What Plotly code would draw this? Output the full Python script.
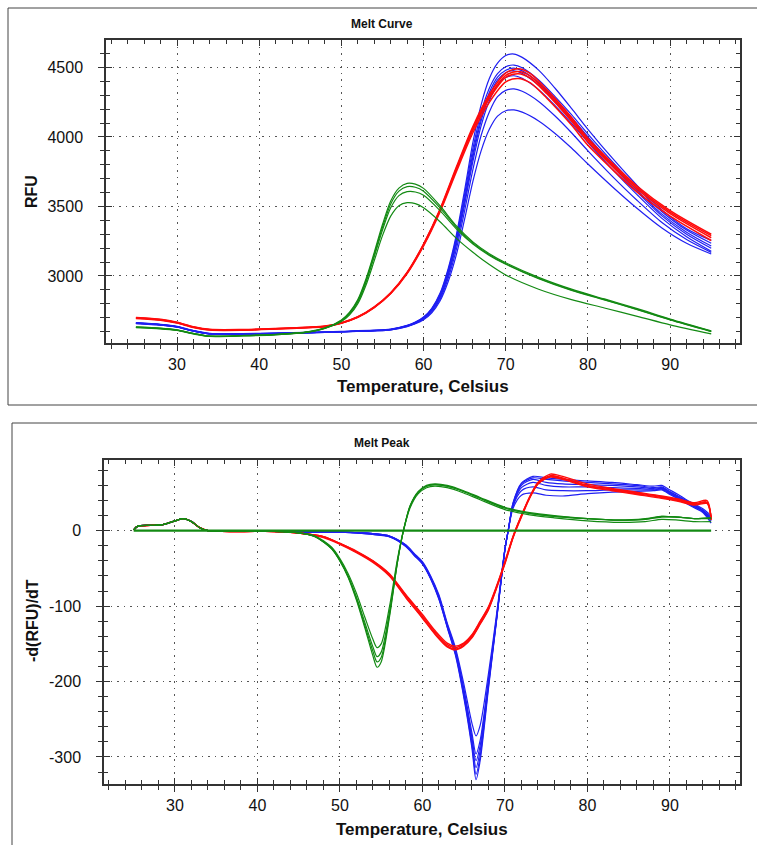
import plotly.graph_objects as go

W, H = 757, 845

# ---------------- Melt Curve (RFU) ----------------
T_GREEN_TOP = [25, 28, 30, 32, 34, 38, 42, 46, 48, 50, 51, 52, 53, 54, 55, 56, 57, 58, 59, 60,
               62, 64, 66, 68, 70, 74, 78, 82, 86, 90, 95]
GREEN_TOP_1 = [2630, 2622, 2610, 2585, 2566, 2570, 2578, 2598, 2625, 2684, 2740, 2830, 2980, 3170, 3370, 3540, 3632, 3666, 3660, 3630,
               3505, 3360, 3245, 3160, 3095, 2990, 2905, 2835, 2765, 2690, 2605]
GREEN_TOP_2 = [2634, 2625, 2612, 2587, 2568, 2572, 2580, 2600, 2627, 2680, 2735, 2822, 2968, 3155, 3350, 3518, 3610, 3642, 3638, 3610,
               3490, 3350, 3238, 3153, 3088, 2984, 2900, 2830, 2760, 2686, 2602]
GREEN_TOP_3 = [2628, 2620, 2608, 2583, 2565, 2569, 2577, 2596, 2622, 2676, 2728, 2812, 2955, 3140, 3330, 3490, 3578, 3606, 3604, 3580,
               3470, 3338, 3230, 3148, 3084, 2980, 2896, 2828, 2758, 2684, 2600]
GREEN_TOP_4 = [2632, 2623, 2611, 2586, 2567, 2571, 2579, 2598, 2624, 2672, 2720, 2800, 2935, 3110, 3290, 3430, 3505, 3527, 3520, 3490,
               3390, 3270, 3170, 3082, 3007, 2905, 2830, 2770, 2710, 2648, 2583]

T_RED_TOP = [25, 28, 30, 32, 34, 38, 42, 46, 48, 50, 52, 54, 56, 58, 60, 62, 64, 66, 68, 70, 71.5, 73, 75, 78, 80, 83, 86, 90, 95]
RED_TOP_1 = [2698, 2685, 2664, 2632, 2613, 2612, 2620, 2630, 2637, 2662, 2705, 2776, 2878, 3025, 3230, 3480, 3785, 4075, 4305, 4460,
             4490, 4455, 4340, 4140, 3990, 3810, 3645, 3470, 3300]
RED_TOP_2 = [2702, 2688, 2667, 2635, 2616, 2615, 2622, 2632, 2640, 2664, 2707, 2778, 2880, 3026, 3228, 3475, 3775, 4060, 4288, 4442,
             4470, 4437, 4323, 4125, 3977, 3798, 3634, 3460, 3290]
RED_TOP_3 = [2695, 2682, 2661, 2630, 2611, 2610, 2618, 2628, 2635, 2660, 2702, 2772, 2874, 3020, 3222, 3470, 3768, 4050, 4275, 4428,
             4455, 4422, 4310, 4112, 3965, 3786, 3622, 3448, 3275]
RED_TOP_4 = [2700, 2686, 2665, 2633, 2614, 2613, 2621, 2631, 2638, 2662, 2704, 2774, 2874, 3018, 3216, 3460, 3752, 4030, 4248, 4395,
             4420, 4388, 4278, 4085, 3940, 3765, 3603, 3430, 3255]

T_BLUE_TOP = [25, 28, 30, 32, 34, 38, 42, 46, 50, 54, 56, 58, 59, 60, 61, 62, 63, 64, 65, 66, 67, 68, 69, 70, 71, 72,
              74, 76, 78, 80, 83, 86, 89, 92, 95]
BLUE_TOP_1 = [2665, 2653, 2638, 2608, 2587, 2586, 2590, 2595, 2602, 2610, 2618, 2645, 2668, 2705, 2768, 2875, 3055, 3300, 3620, 3960,
              4230, 4420, 4530, 4585, 4596, 4572, 4480, 4350, 4205, 4055, 3845, 3650, 3475, 3340, 3255]
BLUE_TOP_2 = [2662, 2650, 2635, 2605, 2585, 2584, 2588, 2593, 2600, 2609, 2617, 2644, 2667, 2702, 2764, 2868, 3042, 3280, 3590, 3915,
              4175, 4350, 4455, 4505, 4517, 4497, 4410, 4290, 4160, 4020, 3820, 3632, 3462, 3330, 3235]
BLUE_TOP_3 = [2660, 2648, 2633, 2604, 2583, 2583, 2587, 2592, 2599, 2607, 2615, 2642, 2665, 2700, 2760, 2860, 3030, 3260, 3560, 3880,
              4140, 4320, 4430, 4480, 4495, 4475, 4390, 4270, 4140, 4000, 3800, 3615, 3445, 3315, 3215]
BLUE_TOP_4 = [2663, 2651, 2636, 2606, 2585, 2584, 2588, 2593, 2600, 2607, 2615, 2641, 2663, 2698, 2755, 2852, 3018, 3245, 3540, 3855,
              4115, 4295, 4410, 4462, 4476, 4457, 4372, 4255, 4125, 3985, 3788, 3603, 3432, 3300, 3199]
BLUE_TOP_5 = [2658, 2646, 2632, 2603, 2582, 2582, 2586, 2591, 2598, 2606, 2614, 2640, 2661, 2695, 2750, 2845, 3005, 3228, 3515, 3825,
              4080, 4260, 4375, 4427, 4440, 4422, 4340, 4225, 4098, 3960, 3765, 3583, 3414, 3282, 3178]
BLUE_TOP_6 = [2661, 2649, 2634, 2605, 2584, 2583, 2587, 2592, 2599, 2606, 2613, 2638, 2659, 2690, 2742, 2832, 2985, 3195, 3470, 3765,
              4010, 4180, 4290, 4335, 4345, 4328, 4255, 4150, 4030, 3900, 3715, 3543, 3385, 3262, 3170]
BLUE_TOP_7 = [2659, 2647, 2633, 2604, 2583, 2582, 2586, 2591, 2598, 2605, 2612, 2636, 2656, 2685, 2735, 2820, 2960, 3155, 3410, 3680,
              3900, 4055, 4150, 4188, 4194, 4178, 4115, 4025, 3920, 3805, 3640, 3485, 3345, 3235, 3158]

# ---------------- Melt Peak (-d(RFU)/dT) ----------------
ONSET_T = [25, 25.5, 27, 28.5, 30, 31, 32, 33, 34, 38, 42]
ONSET_V = [1, 6, 7, 8, 13, 16, 12, 4, 0, -1, -1]

T_GREEN_BOT = [45, 47, 49, 50, 51, 52, 53, 54, 54.5, 55, 56, 57, 57.7, 58.5, 59.5, 60.5, 61.5, 63, 65, 67,
               70, 73, 76, 80, 84, 87, 89, 91, 93, 95]
GREEN_BOT_1 = [-3, -8, -24, -40, -62, -92, -128, -166, -181, -174, -115, -40, 0, 33, 52, 60, 62, 60, 53, 44,
               31, 24, 20, 16, 14, 15, 19, 18, 16, 17]
GREEN_BOT_2 = [-3, -8, -24, -40, -61, -90, -125, -160, -174, -168, -112, -40, 0, 32, 51, 59, 61, 59, 52, 43,
               30, 23, 19, 16, 14, 15, 18, 18, 16, 16]
GREEN_BOT_3 = [-3, -8, -23, -39, -60, -88, -121, -154, -167, -161, -108, -39, 0, 32, 51, 59, 61, 59, 52, 43,
               30, 23, 19, 16, 14, 16, 19, 18, 16, 17]
GREEN_BOT_4 = [-3, -7, -22, -37, -57, -83, -114, -144, -155, -150, -101, -36, 0, 30, 49, 57, 59, 57, 50, 41,
               28, 21, 17, 13, 11, 12, 15, 14, 12, 12]
THRESHOLD_T = [25, 95]
THRESHOLD_V = [0, 0]

T_RED_BOT = [45, 48, 50, 52, 54, 56, 58, 60, 61.5, 63, 64, 65, 66, 67, 68, 69, 70, 71, 72, 73, 74, 75.5, 77,
             80, 83, 86, 89, 91, 93, 94.5, 95]
RED_BOT_1 = [-3, -8, -17, -28, -41, -59, -88, -115, -136, -153, -157, -152, -141, -123, -104, -75, -43, -8, 20, 45, 64, 75, 72,
             62, 56, 51, 46, 42, 37, 40, 14]
RED_BOT_2 = [-3, -8, -17, -28, -40, -58, -86, -113, -134, -151, -155, -150, -139, -121, -102, -74, -42, -8, 19, 44, 63, 73, 70,
             60, 55, 50, 45, 41, 36, 38, 15]
RED_BOT_3 = [-3, -9, -18, -29, -42, -60, -89, -116, -137, -154, -158, -153, -142, -124, -105, -76, -44, -9, 18, 43, 62, 72, 69,
             59, 54, 49, 44, 40, 35, 37, 16]
RED_BOT_4 = [-3, -8, -17, -27, -40, -57, -85, -111, -132, -149, -153, -149, -138, -120, -101, -73, -41, -7, 20, 44, 62, 71, 68,
             58, 53, 48, 43, 39, 34, 36, 18]

T_BLUE_BOT = [46, 50, 54, 56, 58, 59, 60, 61, 62, 63, 64, 65, 66, 66.5, 67, 68, 69, 70, 70.4, 71, 72, 73.4, 75, 77,
              80, 83, 86, 88, 89, 90, 91, 92, 93, 94, 95]
BLUE_BOT_1 = [-2, -2, -5, -8, -21, -33, -44, -64, -91, -128, -165, -220, -288, -330, -305, -210, -118, -26, 0, 37, 62, 70, 68, 66,
              64, 62, 60, 57, 58, 52, 46, 40, 34, 27, 16]
BLUE_BOT_2 = [-2, -2, -5, -8, -21, -32, -44, -63, -90, -127, -163, -217, -284, -323, -299, -207, -117, -25, 0, 37, 63, 72, 70, 68,
              66, 64, 61, 59, 60, 54, 48, 41, 35, 29, 20]
BLUE_BOT_3 = [-2, -2, -4, -8, -20, -32, -43, -63, -89, -126, -161, -214, -279, -314, -292, -204, -116, -25, 0, 35, 60, 68, 64, 62,
              61, 60, 58, 56, 57, 51, 45, 39, 33, 27, 18]
BLUE_BOT_4 = [-2, -2, -4, -7, -20, -31, -43, -62, -88, -125, -160, -211, -274, -305, -285, -201, -115, -25, 0, 34, 57, 64, 60, 58,
              58, 57, 56, 55, 56, 50, 44, 38, 32, 26, 15]
BLUE_BOT_5 = [-2, -2, -4, -7, -19, -31, -42, -61, -87, -124, -158, -208, -268, -296, -278, -198, -114, -25, 0, 33, 53, 58, 54, 53,
              53, 54, 54, 54, 55, 49, 43, 37, 31, 25, 13]
BLUE_BOT_6 = [-2, -2, -4, -7, -19, -30, -41, -60, -85, -122, -155, -202, -255, -272, -258, -190, -110, -24, 0, 30, 47, 50, 47, 46,
              49, 51, 52, 53, 54, 48, 42, 36, 30, 24, 10]

# tick labels
X_TICKS = [30, 40, 50, 60, 70, 80, 90]
X_TICK_TEXT = ["30", "40", "50", "60", "70", "80", "90"]
TOP_Y_TICKS = [3000, 3500, 4000, 4500]
TOP_Y_TICK_TEXT = ["3000", "3500", "4000", "4500"]
BOT_Y_TICKS = [-300, -200, -100, 0]
BOT_Y_TICK_TEXT = ["-300", "-200", "-100", "0"]

TOP_X_RANGE = [21.36, 98.5]
TOP_Y_RANGE = [2518, 4697]
BOT_X_RANGE = [21.4, 98.5]
BOT_Y_RANGE = [-335.8, 93.7]

GREEN = "#138a13"
RED = "#ff0b0b"
BLUE = "#1f1ff2"

fig = go.Figure()


def add_lines(xs, series, color, xa, ya, width=1.2):
    for ys in series:
        fig.add_trace(go.Scatter(x=xs, y=ys, mode="lines", xaxis=xa, yaxis=ya,
                                 line=dict(color=color, width=width, shape="spline", smoothing=0.8),
                                 showlegend=False, hoverinfo="skip"))


# top
add_lines(T_BLUE_TOP, [BLUE_TOP_1, BLUE_TOP_2, BLUE_TOP_3, BLUE_TOP_4, BLUE_TOP_5, BLUE_TOP_6, BLUE_TOP_7], BLUE, "x", "y")
add_lines(T_RED_TOP, [RED_TOP_1, RED_TOP_2, RED_TOP_3, RED_TOP_4], RED, "x", "y", 1.5)
add_lines(T_GREEN_TOP, [GREEN_TOP_1, GREEN_TOP_2, GREEN_TOP_3, GREEN_TOP_4], GREEN, "x", "y")

# bottom
add_lines(ONSET_T + T_BLUE_BOT, [ONSET_V + s for s in [BLUE_BOT_1, BLUE_BOT_2, BLUE_BOT_3, BLUE_BOT_4, BLUE_BOT_5, BLUE_BOT_6]],
          BLUE, "x2", "y2")
add_lines(ONSET_T + T_RED_BOT, [ONSET_V + s for s in [RED_BOT_1, RED_BOT_2, RED_BOT_3, RED_BOT_4]], RED, "x2", "y2", 1.4)
add_lines(ONSET_T + T_GREEN_BOT, [ONSET_V + s for s in [GREEN_BOT_1, GREEN_BOT_2, GREEN_BOT_3, GREEN_BOT_4]], GREEN, "x2", "y2")
fig.add_trace(go.Scatter(x=THRESHOLD_T, y=THRESHOLD_V, mode="lines", xaxis="x2", yaxis="y2",
                         line=dict(color=GREEN, width=2.2), showlegend=False, hoverinfo="skip"))

# dummy traces for overlay (inside tick) axes
for xa, ya in [("x3", "y3"), ("x4", "y4")]:
    fig.add_trace(go.Scatter(x=[None], y=[None], xaxis=xa, yaxis=ya, showlegend=False, hoverinfo="skip"))

FONT = "Liberation Sans, Arial, sans-serif"
AXC = "#333333"


def px_x(p):
    return p / W


def px_y(p):
    return 1 - p / H


top_xdom = [px_x(106), px_x(740)]
top_ydom = [px_y(343), px_y(40)]
bot_xdom = [px_x(104), px_x(740)]
bot_ydom = [px_y(784), px_y(460)]


def main_axis(domain, rng, tickvals, ticktext, minor_dtick, anchor, standoff):
    return dict(domain=domain, range=rng, tickmode="array", tickvals=tickvals, ticktext=ticktext, anchor=anchor,
                showline=True, linecolor=AXC, linewidth=1.5, mirror=True,
                ticks="outside", ticklen=6, tickwidth=1.2, tickcolor=AXC,
                minor=dict(dtick=minor_dtick, tick0=0, ticks="outside", ticklen=4, tickwidth=1, tickcolor=AXC,
                           showgrid=False),
                showgrid=True, gridcolor="#555555", gridwidth=1, griddash="1.5px,5px",
                zeroline=False, tickfont=dict(family=FONT, size=16, color="#111"),
                ticklabelstandoff=standoff, automargin=False)


def inner_axis(overlay, rng, tickvals, minor_dtick, anchor):
    return dict(overlaying=overlay, range=rng, tickmode="array", tickvals=tickvals, anchor=anchor,
                showline=True, linecolor=AXC, linewidth=1.5, mirror="allticks",
                ticks="inside", ticklen=6, tickwidth=1.2, tickcolor=AXC,
                minor=dict(dtick=minor_dtick, tick0=0, ticks="inside", ticklen=4, tickwidth=1, tickcolor=AXC,
                           showgrid=False),
                showgrid=False, zeroline=False, showticklabels=False, automargin=False)


fig.update_layout(
    width=W, height=H,
    margin=dict(l=0, r=0, t=0, b=0),
    paper_bgcolor="white", plot_bgcolor="white",
    xaxis=main_axis(top_xdom, TOP_X_RANGE, X_TICKS, X_TICK_TEXT, 2, "y", 0),
    yaxis=main_axis(top_ydom, TOP_Y_RANGE, TOP_Y_TICKS, TOP_Y_TICK_TEXT, 100, "x", 12),
    xaxis2=main_axis(bot_xdom, BOT_X_RANGE, X_TICKS, X_TICK_TEXT, 2, "y2", 0),
    yaxis2=main_axis(bot_ydom, BOT_Y_RANGE, BOT_Y_TICKS, BOT_Y_TICK_TEXT, 20, "x2", 12),
    xaxis3=inner_axis("x", TOP_X_RANGE, X_TICKS, 2, "y3"),
    yaxis3=inner_axis("y", TOP_Y_RANGE, TOP_Y_TICKS, 100, "x3"),
    xaxis4=inner_axis("x2", BOT_X_RANGE, X_TICKS, 2, "y4"),
    yaxis4=inner_axis("y2", BOT_Y_RANGE, BOT_Y_TICKS, 20, "x4"),
)
fig.layout.xaxis3.domain = top_xdom
fig.layout.yaxis3.domain = top_ydom
fig.layout.xaxis4.domain = bot_xdom
fig.layout.yaxis4.domain = bot_ydom

# outer frames
fig.add_shape(type="rect", xref="paper", yref="paper", x0=px_x(8), x1=px_x(760), y0=px_y(405), y1=px_y(8),
              line=dict(color="#444", width=1), layer="below")
fig.add_shape(type="rect", xref="paper", yref="paper", x0=px_x(12), x1=px_x(760), y0=px_y(850), y1=px_y(423),
              line=dict(color="#444", width=1), layer="below")


def label(text, x, y, size, angle=0, bold=True):
    fig.add_annotation(text=f"<b>{text}</b>" if bold else text, x=px_x(x), y=px_y(y), xref="paper", yref="paper",
                       showarrow=False, textangle=angle, xanchor="center", yanchor="middle",
                       font=dict(family=FONT, size=size, color="#111"))


label("Melt Curve", 382, 24, 12)
label("Melt Peak", 382, 443, 12)
label("Temperature, Celsius", 423, 386, 17)
label("Temperature, Celsius", 422, 829, 17)
label("RFU", 32, 192, 16, -90)
label("-d(RFU)/dT", 32, 621, 16, -90)

fig.write_html("out.html")
